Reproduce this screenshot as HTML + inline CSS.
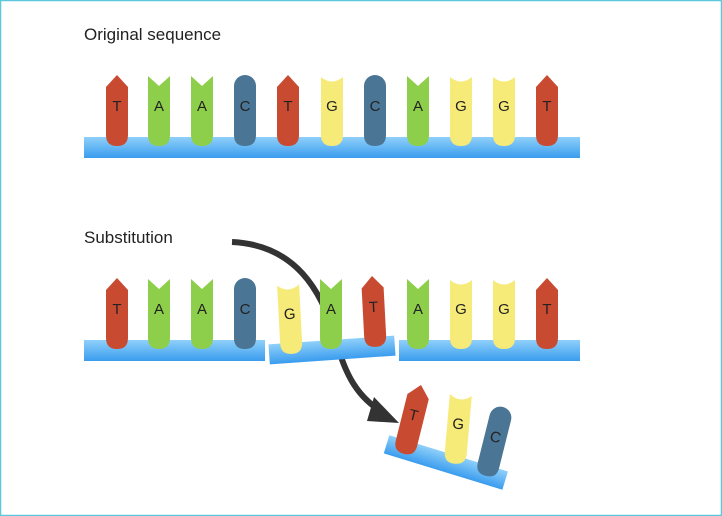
<!DOCTYPE html>
<html><head><meta charset="utf-8"><style>
html,body{margin:0;padding:0;background:#fff;}
svg{display:block;}
text{font-family:"Liberation Sans",sans-serif;}
</style></head><body>
<svg width="722" height="516" viewBox="0 0 722 516" xmlns="http://www.w3.org/2000/svg">
<defs>
<linearGradient id="bb" x1="0" y1="0" x2="0" y2="1">
<stop offset="0" stop-color="#8fd0fa"/><stop offset="1" stop-color="#3a9cee"/>
</linearGradient>
<path id="T" d="M-11,12 L0,0 L11,12 L11,60 Q11,71 0,71 Q-11,71 -11,60 Z" fill="#c84b31"/>
<path id="A" d="M-11,1 L0,11 L11,1 L11,60 Q11,71 0,71 Q-11,71 -11,60 Z" fill="#8dcf4a"/>
<path id="C" d="M-11,11 A11,11 0 0 1 11,11 L11,60 Q11,71 0,71 Q-11,71 -11,60 Z" fill="#4a7594"/>
<path id="G" d="M-11,2 Q0,11 11,2 L11,60 Q11,71 0,71 Q-11,71 -11,60 Z" fill="#f6ea79"/>
</defs>
<rect x="0.5" y="0.5" width="721" height="515" fill="#fff" stroke="#5cc8dc" stroke-width="1.5"/>
<text x="84" y="40" font-size="17" fill="#222">Original sequence</text>
<text x="84" y="243" font-size="17" fill="#222">Substitution</text>

<!-- row 1 -->
<rect x="84" y="137" width="496" height="21" fill="url(#bb)"/>
<g font-size="15" text-anchor="middle" fill="#222">
<use href="#T" x="117" y="75"/><text x="117" y="111">T</text>
<use href="#A" x="159" y="75"/><text x="159" y="111">A</text>
<use href="#A" x="202" y="75"/><text x="202" y="111">A</text>
<use href="#C" x="245" y="75"/><text x="245" y="111">C</text>
<use href="#T" x="288" y="75"/><text x="288" y="111">T</text>
<use href="#G" x="332" y="75"/><text x="332" y="111">G</text>
<use href="#C" x="375" y="75"/><text x="375" y="111">C</text>
<use href="#A" x="418" y="75"/><text x="418" y="111">A</text>
<use href="#G" x="461" y="75"/><text x="461" y="111">G</text>
<use href="#G" x="504" y="75"/><text x="504" y="111">G</text>
<use href="#T" x="547" y="75"/><text x="547" y="111">T</text>
</g>

<!-- row 2 -->
<rect x="84" y="340" width="181" height="21" fill="url(#bb)"/>
<rect x="399" y="340" width="181" height="21" fill="url(#bb)"/>
<g font-size="15" text-anchor="middle" fill="#222">
<use href="#T" x="117" y="278"/><text x="117" y="314">T</text>
<use href="#A" x="159" y="278"/><text x="159" y="314">A</text>
<use href="#A" x="202" y="278"/><text x="202" y="314">A</text>
<use href="#C" x="245" y="278"/><text x="245" y="314">C</text>
<use href="#A" x="418" y="278"/><text x="418" y="314">A</text>
<use href="#G" x="461" y="278"/><text x="461" y="314">G</text>
<use href="#G" x="504" y="278"/><text x="504" y="314">G</text>
<use href="#T" x="547" y="278"/><text x="547" y="314">T</text>
</g>

<!-- arrow -->
<path d="M232,242 C295,245 322,290 336,340 C345,375 358,398 384,413" fill="none" stroke="#333" stroke-width="6"/>
<path d="M374,397 L399,423 L367,421 Z" fill="#333"/>

<g transform="translate(332,350) rotate(-4)">
<rect x="-63" y="-10" width="126" height="20" fill="url(#bb)"/>
</g>
<g font-size="15" text-anchor="middle" fill="#222">
<g transform="translate(288,283) rotate(-3)"><use href="#G" x="0" y="0"/><text x="0" y="36">G</text></g>
<g transform="translate(331,278)"><use href="#A" x="0" y="0"/><text x="0" y="36">A</text></g>
<g transform="translate(372,276) rotate(-3)"><use href="#T" x="0" y="0"/><text x="0" y="36">T</text></g>
</g>

<!-- fragment -->
<g transform="translate(446,462) rotate(17)">
<rect x="-62" y="-9" width="124" height="19" fill="url(#bb)"/>
</g>
<g font-size="15" text-anchor="middle" fill="#222">
<g transform="translate(421,385) rotate(14)"><use href="#T" x="0" y="0"/><text x="0" y="36">T</text></g>
<g transform="translate(461,393) rotate(5)"><use href="#G" x="0" y="0"/><text x="0" y="36">G</text></g>
<g transform="translate(503,407) rotate(14)"><use href="#C" x="0" y="0"/><text x="0" y="36">C</text></g>
</g>
</svg>
</body></html>
